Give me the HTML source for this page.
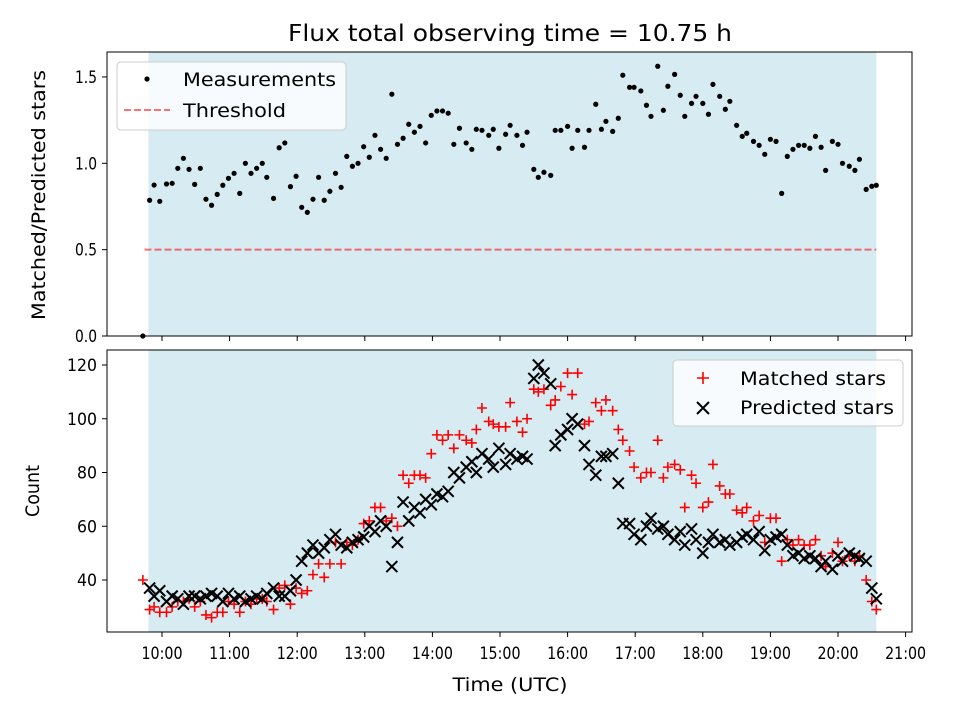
<!DOCTYPE html>
<html><head><meta charset="utf-8"><style>
body{margin:0;background:#fff;font-family:"Liberation Sans","DejaVu Sans",sans-serif}
svg text{font-family:"DejaVu Sans","Liberation Sans",sans-serif;fill:#000}
</style></head><body>
<svg id="c" width="960" height="720" viewBox="0 0 960 720" xmlns="http://www.w3.org/2000/svg"></svg>
<script>
const times=[589,593,598,604,609,614,619,624,629,634,639,644,649,654,659,664,669,674,679,684,689,693,699,704,709,714,719,724,729,734,739,744,749,754,759,764,769,774,779,784,789,794,799,804,809,814,819,824,829,834,839,844,849,854,859,864,870,875,879,884,890,894,899,905,909,915,920,924,930,934,939,945,949,954,960,964,969,975,979,985,990,994,1000,1005,1009,1015,1019,1025,1030,1034,1040,1045,1049,1055,1060,1064,1070,1074,1080,1085,1089,1095,1100,1104,1110,1115,1119,1125,1130,1135,1140,1145,1150,1155,1160,1165,1170,1175,1180,1185,1189,1195,1200,1204,1210,1215,1219,1225,1230,1234];
const ratio=[0.786,0.874,0.78,0.88,0.884,0.971,1.029,0.965,0.878,0.971,0.792,0.757,0.82,0.873,0.913,0.942,0.826,1.0,0.942,0.971,1.0,0.919,0.797,1.09,1.118,0.865,0.925,0.745,0.716,0.792,0.919,0.786,0.838,0.942,0.861,1.04,0.983,1.0,1.096,1.035,1.162,1.081,1.029,1.4,1.11,1.145,1.226,1.18,1.214,1.118,1.278,1.303,1.303,1.29,1.11,1.203,1.118,1.081,1.197,1.191,1.162,1.197,1.087,1.168,1.22,1.162,1.104,1.18,0.965,0.919,0.948,0.93,1.191,1.191,1.214,1.087,1.191,1.093,1.191,1.342,1.197,1.243,1.185,1.261,1.51,1.44,1.44,1.419,1.336,1.272,1.562,1.307,1.446,1.515,1.394,1.272,1.347,1.388,1.347,1.284,1.457,1.388,1.313,1.359,1.22,1.156,1.174,1.127,1.104,1.052,1.139,1.127,0.826,1.04,1.081,1.104,1.104,1.087,1.156,1.093,0.959,1.127,1.11,1.0,0.983,0.959,1.023,0.849,0.867,0.873];
const extraTime=[583];
const extraRatio=[0];
const matched=[29,30,28,28,30,32,32,33,30,32,27,26,28,28,32,31,28,32,31,33,33,32,29,37,38,31,37,35,36,42,46,41,46,54,46,54,53,55,61,62,67,67,62,63,60,79,76,79,79,78,87,94,92,94,89,94,92,91,96,104,99,98,97,97,106,99,95,100,111,110,111,105,107,112,117,109,117,98,99,106,103,107,103,96,92,88,82,78,80,80,92,78,82,83,81,67,79,76,67,69,83,75,72,72,66,65,67,62,64,54,63,63,47,55,53,55,53,53,55,49,45,50,54,47,49,47,49,40,32,29];
const predicted=[37,34,36,32,34,33,31,34,34,33,34,35,34,32,35,33,34,32,33,34,33,35,37,34,34,36,40,47,50,53,50,52,55,57,53,52,54,55,56,60,58,62,60,45,54,69,62,67,65,70,68,72,71,73,80,78,82,84,80,87,85,82,89,83,87,85,86,85,115,120,117,113,90,94,96,100,98,90,83,79,86,86,87,76,61,61,57,55,60,63,59,60,57,55,58,53,59,55,50,54,57,54,55,53,54,56,57,55,58,51,55,56,57,53,49,50,48,49,48,45,47,44,49,47,50,49,48,47,37,33];
const extraMatchedTime=[583];
const extraMatched=[40];
const xTicks=["10:00","11:00","12:00","13:00","14:00","15:00","16:00","17:00","18:00","19:00","20:00","21:00"];
const xTickMin=[600,660,720,780,840,900,960,1020,1080,1140,1200,1260];
const yTopTicks=[0,0.5,1.0,1.5];
const yBotTicks=[40,60,80,100,120];
const threshold=[0.5];
const span=[588,1234];

const NS="http://www.w3.org/2000/svg";
const svg=document.getElementById('c');
function el(t,a,p){const e=document.createElementNS(NS,t);for(const k in a)e.setAttribute(k,a[k]);(p||svg).appendChild(e);return e;}
const L=107,R=912,T1=52,B1=336,T2=350,B2=632;
const xs=m=>162+(m-600)*67.6/60;
const y1=v=>336-v*172.7;
const y2=v=>580-(v-40)*2.6875;

let g=el('g',{});


el('rect',{x:xs(span[0]),y:T1,width:xs(span[1])-xs(span[0]),height:B1-T1,fill:'#add8e6','fill-opacity':0.5},g);
g=el('g',{});


el('rect',{x:xs(span[0]),y:T2,width:xs(span[1])-xs(span[0]),height:B2-T2,fill:'#add8e6','fill-opacity':0.5},g);

const th=el('line',{x1:xs(span[0])-4,x2:xs(span[1]),y1:y1(threshold[0]),y2:y1(threshold[0]),stroke:'#ff0000','stroke-opacity':0.55,'stroke-width':2,'stroke-dasharray':'7,3'});



const mg=el('g',{fill:'#000'});


times.concat(extraTime).forEach((t,i)=>{const v=i<times.length?ratio[i]:extraRatio[i-times.length];
 const c=el('circle',{cx:xs(t),cy:y1(v),r:2.6},mg);
 
 });

const pg=el('g',{stroke:'#ff0000','stroke-width':1.6});


const mt=extraMatchedTime.concat(times), mv=extraMatched.concat(matched);
mt.forEach((t,i)=>{const x=xs(t),y=y2(mv[i]),s=5;
 const p=el('path',{d:`M${x-s},${y}H${x+s}M${x},${y-s}V${y+s}`},pg);
 
 });
const xg=el('g',{stroke:'#000','stroke-width':2});


times.forEach((t,i)=>{const x=xs(t),y=y2(predicted[i]),s=5.5;
 const p=el('path',{d:`M${x-s},${y-s}L${x+s},${y+s}M${x-s},${y+s}L${x+s},${y-s}`},xg);
 
 });

[[T1,B1,'top-axes-frame'],[T2,B2,'bottom-axes-frame']].forEach(([t,b,n])=>{const r=el('rect',{x:L,y:t,width:R-L,height:b-t,fill:'none',stroke:'#000','stroke-width':1});
 });

function txt(s,a,p,len){const t=el('text',a,p);t.textContent=s;if(len){t.setAttribute('textLength',len);t.setAttribute('lengthAdjust','spacingAndGlyphs');}return t;}

xTickMin.forEach((m,i)=>{const x=xs(m);
 el('line',{x1:x,x2:x,y1:B1,y2:B1+5,stroke:'#000'});
 el('line',{x1:x,x2:x,y1:B2,y2:B2+5,stroke:'#000'});
 const tx=txt(xTicks[i],{x:x,y:B2+27,'font-size':17,'text-anchor':'middle'},null,41);
 });
yTopTicks.forEach(v=>{const y=y1(v);el('line',{x1:L-5,x2:L,y1:y,y2:y,stroke:'#000'});
 const tx=txt(v.toFixed(1),{x:L-10,y:y+6,'font-size':17,'text-anchor':'end'},null,22);
 });
yBotTicks.forEach(v=>{const y=y2(v);el('line',{x1:L-5,x2:L,y1:y,y2:y,stroke:'#000'});
 const tx=txt(String(v),{x:L-10,y:y+6,'font-size':17,'text-anchor':'end'},null,String(v).length*10);
 });

let t=txt('Flux total observing time = 10.75 h',{x:510,y:41,'font-size':23,'text-anchor':'middle'},null,444);

t=txt('Time (UTC)',{x:510,y:691,'font-size':19,'text-anchor':'middle'},null,115);

t=txt('Matched/Predicted stars',{x:0,y:0,'font-size':19,'text-anchor':'middle',transform:'translate(45,195) rotate(-90)'},null,250);

t=txt('Count',{x:0,y:0,'font-size':19,'text-anchor':'middle',transform:'translate(39,491) rotate(-90)'},null,52);


let lg=el('g',{});
el('rect',{x:117,y:62,width:229,height:68,rx:4,fill:'#fff','fill-opacity':0.8,stroke:'#ccc'},lg);
el('circle',{cx:147,cy:79,r:2.6,fill:'#000'},lg);
t=txt('Measurements',{x:183,y:86,'font-size':19},lg,153);

el('line',{x1:124,x2:170,y1:110,y2:110,stroke:'#ff0000','stroke-opacity':0.55,'stroke-width':2,'stroke-dasharray':'7,3'},lg);
t=txt('Threshold',{x:183,y:117,'font-size':19},lg,103);


lg=el('g',{});
el('rect',{x:673,y:360,width:230,height:66,rx:4,fill:'#fff','fill-opacity':0.8,stroke:'#ccc'},lg);
el('path',{d:'M697,378H709M703,372V384',stroke:'#ff0000','stroke-width':1.6},lg);
t=txt('Matched stars',{x:740,y:385,'font-size':19},lg,146);

el('path',{d:'M697,402L709,414M697,414L709,402',stroke:'#000','stroke-width':2},lg);
t=txt('Predicted stars',{x:740,y:414,'font-size':19},lg,154);

</script>
</body></html>
